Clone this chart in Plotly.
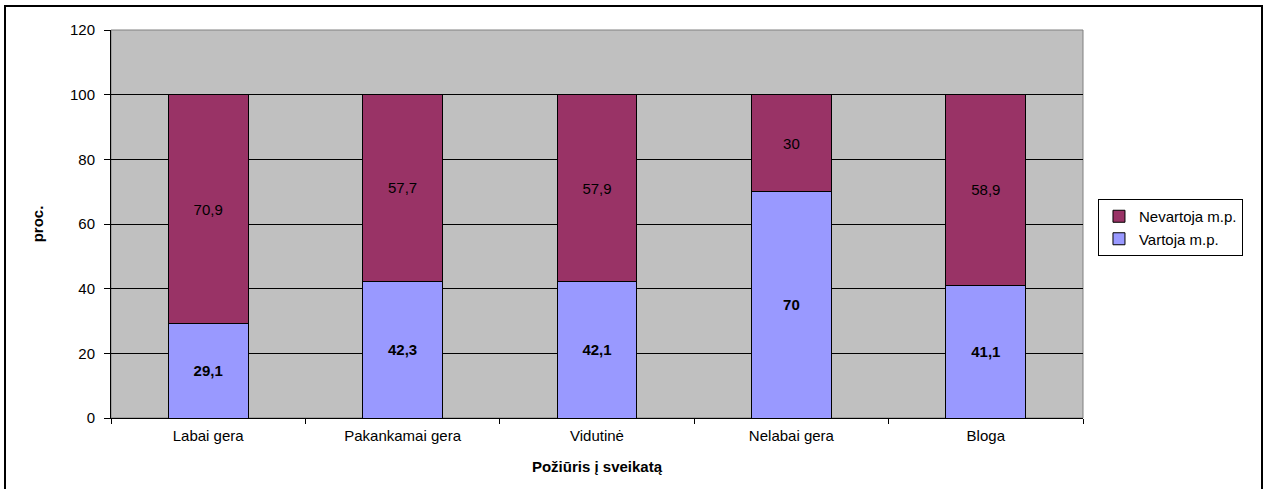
import plotly.graph_objects as go

categories = ["Labai gera", "Pakankamai gera", "Vidutinė", "Nelabai gera", "Bloga"]
vartoja = [29.1, 42.3, 42.1, 70, 41.1]
nevartoja = [70.9, 57.7, 57.9, 30, 58.9]
y_ticks = [0, 20, 40, 60, 80, 100, 120]

def fmt(v):
    return ("%g" % v).replace(".", ",")

FONT = "Liberation Sans, Arial, sans-serif"
FS = 15

fig = go.Figure()
fig.add_trace(go.Bar(
    x=categories, y=vartoja, name="Vartoja m.p.",
    marker=dict(color="#9999FF", line=dict(color="black", width=1)),
    text=["<b>" + fmt(v) + "</b>" for v in vartoja],
    textposition="inside", insidetextanchor="middle",
    textfont=dict(family=FONT, size=FS, color="black"),
    width=0.41,
))
fig.add_trace(go.Bar(
    x=categories, y=nevartoja, name="Nevartoja m.p.",
    marker=dict(color="#993366", line=dict(color="black", width=1)),
    text=[fmt(v) for v in nevartoja],
    textposition="inside", insidetextanchor="middle",
    textfont=dict(family=FONT, size=FS, color="black"),
    width=0.41,
))

fig.update_layout(
    barmode="stack",
    width=1266, height=489,
    margin=dict(l=111, r=183, t=30, b=71),
    paper_bgcolor="white",
    plot_bgcolor="#C0C0C0",
    font=dict(family=FONT, size=FS, color="black"),
    showlegend=True,
    legend=dict(
        x=1.0154, y=0.5644, xanchor="left", yanchor="top",
        bordercolor="black", borderwidth=1, bgcolor="white",
        traceorder="reversed",
        font=dict(family=FONT, size=FS, color="black"),
        tracegroupgap=0, itemwidth=30,
    ),
    xaxis=dict(
        title=dict(text="<b>Požiūris į sveikatą</b>", font=dict(family=FONT, size=FS), standoff=18),
        showline=True, linecolor="black", linewidth=1,
        ticks="outside", tickson="boundaries", ticklen=5, tickcolor="black",
        tickfont=dict(family=FONT, size=FS), ticklabelstandoff=4,
        showgrid=False,
    ),
    yaxis=dict(
        title=dict(text="<b>proc.</b>", font=dict(family=FONT, size=FS), standoff=22),
        range=[0, 120], tickvals=y_ticks,
        showline=True, linecolor="black", linewidth=1,
        ticks="outside", ticklen=6, tickcolor="black",
        tickfont=dict(family=FONT, size=FS), ticklabelstandoff=6,
        showgrid=True, gridcolor="black", gridwidth=1,
        zeroline=False,
    ),
    shapes=[
        dict(type="rect", xref="paper", yref="paper", x0=0, x1=1, y0=0, y1=1,
             line=dict(color="#808080", width=1), fillcolor="rgba(0,0,0,0)", layer="below"),
        dict(type="rect", xref="paper", yref="paper",
             x0=(5 - 111) / 972, x1=(1262 - 111) / 972,
             y0=(418 - 500) / 388, y1=(418 - 6) / 388,
             line=dict(color="black", width=2), fillcolor="rgba(0,0,0,0)"),
    ],
)

fig.write_html("out.html", config={"displayModeBar": False},
               post_script="document.body.style.margin='0';document.body.style.padding='0';window.dispatchEvent(new Event('resize'));")
